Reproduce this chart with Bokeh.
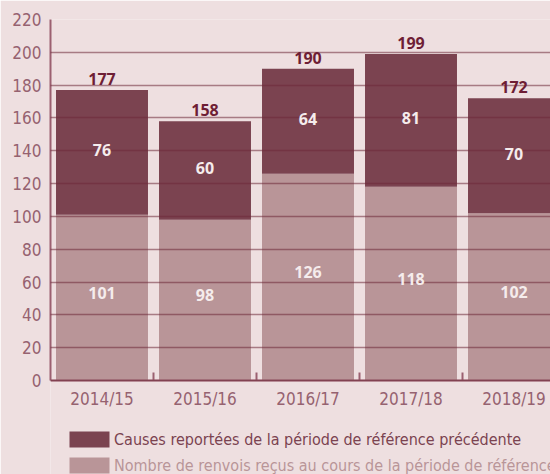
from bokeh.plotting import figure
from bokeh.models import Range1d, FixedTicker, Legend, LegendItem, ColumnDataSource, LabelSet
from bokeh.core.properties import value
from bokeh.embed import file_html
from bokeh.resources import INLINE

periods = ["2014/15", "2015/16", "2016/17", "2017/18", "2018/19"]
received = [101, 98, 126, 118, 102]
carried = [76, 60, 64, 81, 70]
y_ticks = list(range(0, 221, 20))
legend_labels = [
    "Causes reportées de la période de référence précédente",
    "Nombre de renvois reçus au cours de la période de référence",
]

BG = "#EEDFE0"
DARK = "#7B4350"
LIGHT = "#B99598"
AXIS = "#9B6070"
TICKTXT = "#966270"
TOPTXT = "#6E1E35"
NARROW = "DejaVu Sans Condensed"

W, H = 550, 474
LEFT, TOP = 50, 19
ZERO_Y = 380
YMAX = 220
px_per_unit = (ZERO_Y - TOP) / YMAX
ymin = -(H - ZERO_Y) / px_per_unit

x = list(range(len(periods)))
total = [r + c for r, c in zip(received, carried)]
src = ColumnDataSource(dict(
    x=x,
    received=received,
    carried=carried,
    total=total,
    rec_mid=[r / 2 for r in received],
    car_mid=[r + c / 2 for r, c in zip(received, carried)],
    rec_txt=[str(v) for v in received],
    car_txt=[str(v) for v in carried],
    tot_txt=[str(v) for v in total],
))

p = figure(width=W, height=H, output_backend="svg", toolbar_location=None,
           x_range=Range1d(-0.5, -0.5 + (W - LEFT) / 103), y_range=Range1d(ymin, YMAX),
           min_border_left=LEFT, min_border_right=0, min_border_top=TOP, min_border_bottom=0,
           background_fill_color=BG, border_fill_color=BG, outline_line_color=None)

r_light = p.vbar(x="x", bottom=0, top="received", width=0.893, fill_color=LIGHT,
                 line_color=None, source=src)
r_dark = p.vbar(x="x", bottom="received", top="total", width=0.893, fill_color=DARK,
                line_color=None, source=src)

p.xgrid.visible = False
p.ygrid.ticker = FixedTicker(ticks=y_ticks)
p.ygrid.grid_line_color = "#6E2838"
p.ygrid.grid_line_alpha = 0.55
p.ygrid.grid_line_width = 1.5
p.ygrid.level = "annotation"

ya = p.yaxis[0]
ya.ticker = FixedTicker(ticks=y_ticks)
ya.bounds = (0, YMAX)
ya.major_tick_line_color = None
ya.minor_tick_line_color = None
ya.axis_line_color = AXIS
ya.axis_line_width = 2
ya.major_label_text_color = TICKTXT
ya.major_label_text_font = NARROW
ya.major_label_text_font_size = "17px"
ya.major_label_standoff = 3

xa = p.xaxis[0]
xa.fixed_location = 0
xa.ticker = FixedTicker(ticks=x, minor_ticks=[i + 0.5 for i in x[:-1]])
xa.major_label_overrides = {i: s for i, s in zip(x, periods)}
xa.major_tick_line_color = None
xa.minor_tick_in = 8
xa.minor_tick_out = 0
xa.minor_tick_line_color = AXIS
xa.minor_tick_line_width = 2
xa.axis_line_color = AXIS
xa.axis_line_width = 2
xa.major_label_text_color = TICKTXT
xa.major_label_text_font = NARROW
xa.major_label_text_font_size = "17px"
xa.major_label_standoff = 2

p.add_layout(LabelSet(x="x", y="total", text="tot_txt", source=src, text_align="center",
                      text_baseline="bottom", y_offset=5, text_color=TOPTXT,
                      text_font=value("Open Sans"), text_font_style="bold",
                      text_font_size="16px"))
p.add_layout(LabelSet(x="x", y="car_mid", text="car_txt", source=src, text_align="center",
                      text_baseline="middle", y_offset=2, text_color="#F5ECEC",
                      text_font=value("Open Sans"), text_font_style="bold",
                      text_font_size="16px"))
p.add_layout(LabelSet(x="x", y="rec_mid", text="rec_txt", source=src, text_align="center",
                      text_baseline="middle", y_offset=5, text_color="#F5ECEC",
                      text_font=value("Open Sans"), text_font_style="bold",
                      text_font_size="16px"))

for lab, rend, col, loc in [(legend_labels[0], r_dark, DARK, (14, 25)),
                            (legend_labels[1], r_light, LIGHT, (14, -1))]:
    lg = Legend(items=[LegendItem(label=lab, renderers=[rend])],
                glyph_width=50, glyph_height=20, label_height=20, label_standoff=0,
                padding=0, margin=0, spacing=0,
                border_line_color=None, background_fill_alpha=0,
                label_text_color=col, label_text_font=NARROW,
                label_text_font_size="16px", location=loc)
    p.add_layout(lg, "center")

open("out.html", "w").write(file_html(p, INLINE))
